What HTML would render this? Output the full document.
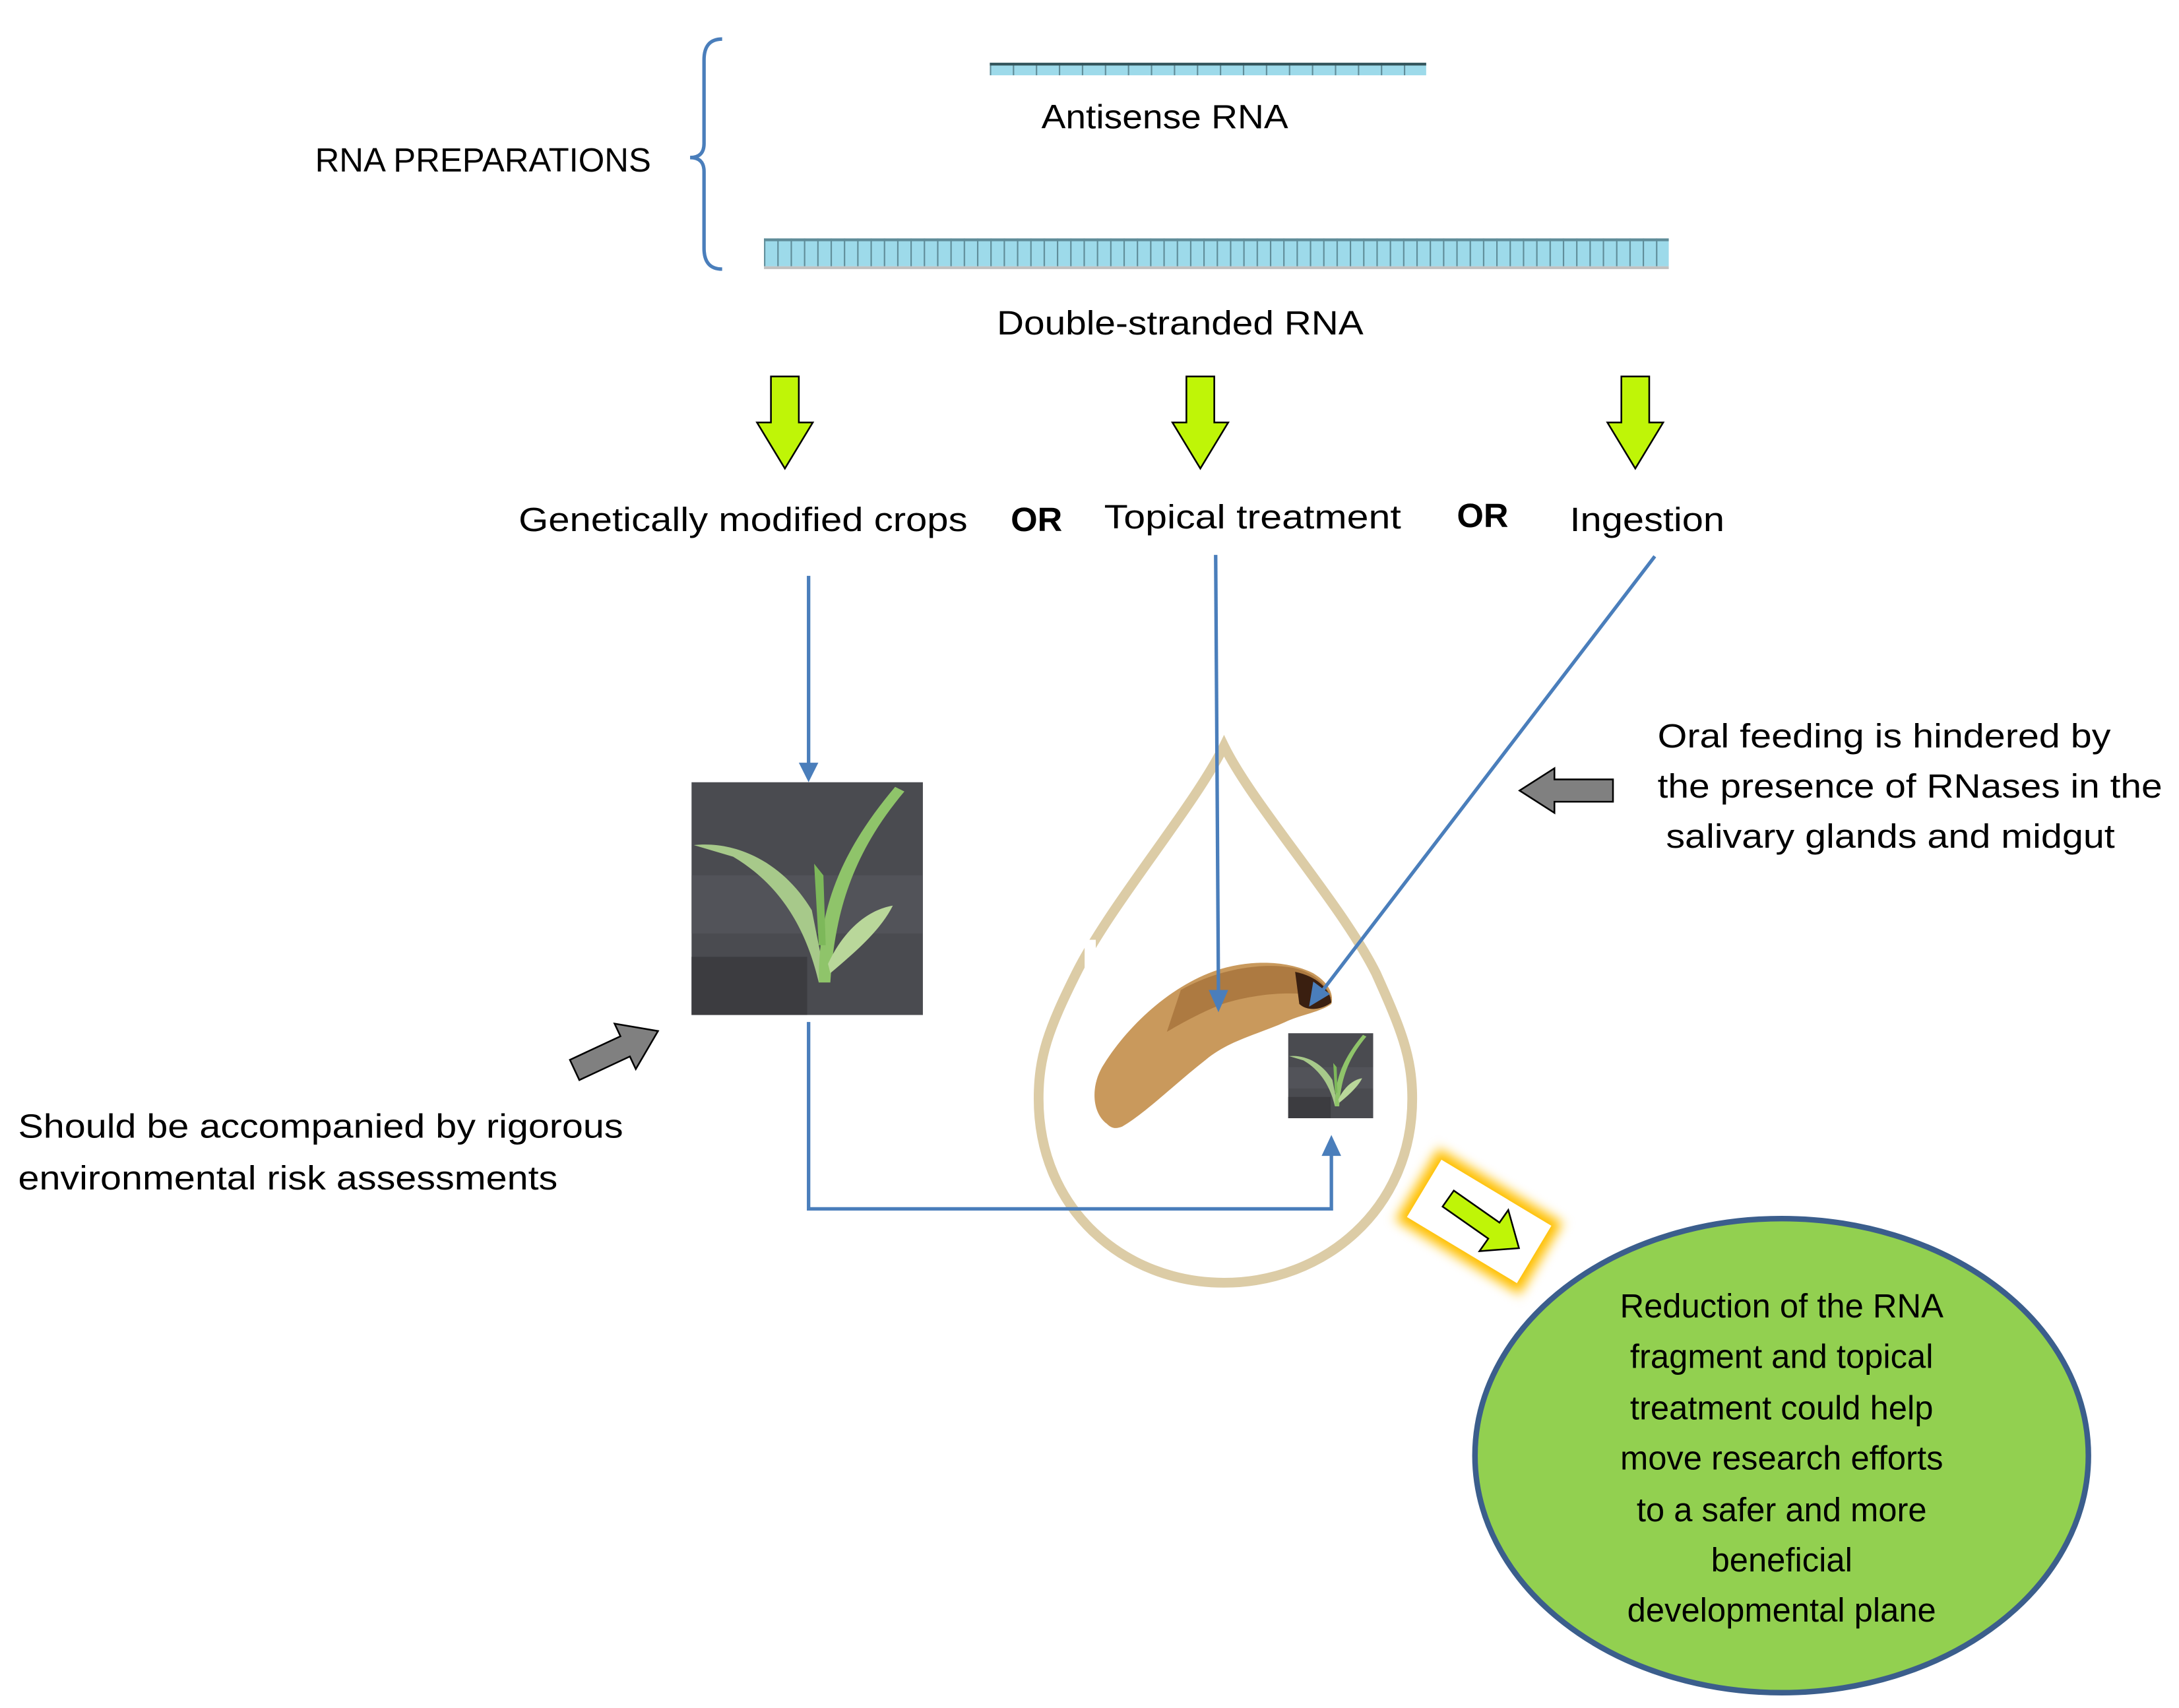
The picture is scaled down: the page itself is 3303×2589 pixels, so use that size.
<!DOCTYPE html>
<html><head><meta charset="utf-8"><style>html,body{margin:0;padding:0;background:#fff}svg{display:block}</style></head>
<body>
<svg width="3303" height="2589" viewBox="0 0 1563 1225" preserveAspectRatio="none" xmlns="http://www.w3.org/2000/svg" font-family="'Liberation Sans', sans-serif" font-size="24">
<defs>
<pattern id="t1" x="713" y="0" width="16.5" height="10" patternUnits="userSpaceOnUse"><rect width="16.5" height="10" fill="#9ddaea"/><rect x="0" width="1" height="10" fill="#5f8c98"/></pattern>
<pattern id="t2" x="551" y="0" width="9.55" height="30" patternUnits="userSpaceOnUse"><rect width="9.55" height="30" fill="#9ddaea"/><rect x="0" width="1" height="30" fill="#5f8c98"/></pattern>
<symbol id="plant" viewBox="0 0 100 100" preserveAspectRatio="none">
<rect width="100" height="100" fill="#4a4b50"/>
<rect x="0" y="40" width="100" height="25" fill="#58595f" opacity="0.6"/>
<rect x="0" y="75" width="50" height="25" fill="#3c3c40"/>
<path d="M1 27 C20 25 40 35 52 55 L58 85 L55 86 C50 65 40 45 18 32 Z" fill="#a7c98a"/>
<path d="M55 86 C55 60 60 35 88 2 L92 4 C70 30 62 55 60 86 Z" fill="#8fc46a"/>
<path d="M59 78 C65 65 75 55 87 53 C82 63 72 72 60 82 Z" fill="#b9d79a"/>
<path d="M55 70 L53 35 L57 40 L58 70Z" fill="#7db85a"/>
</symbol>
<filter id="glow" x="-50%" y="-50%" width="200%" height="200%"><feGaussianBlur stdDeviation="4"/></filter>
</defs>
<g transform="translate(-3,-2)">
<!-- bracket -->
<path d="M521 30 Q508 30 508 45 L508 105 Q508 115 498 115 Q508 115 508 125 L508 180 Q508 195 521 195" fill="none" stroke="#4a7ebb" stroke-width="2.5"/>
<text x="229" y="125" textLength="241" lengthAdjust="spacingAndGlyphs">RNA PREPARATIONS</text>

<rect x="713" y="47" width="313" height="9" fill="url(#t1)"/>
<rect x="713" y="47" width="313" height="2" fill="#33555c"/>
<text x="750" y="94" textLength="177" lengthAdjust="spacingAndGlyphs">Antisense RNA</text>

<rect x="551" y="173" width="649" height="20" fill="url(#t2)"/>
<rect x="551" y="173" width="649" height="2" fill="#5f8c98"/>
<rect x="551" y="193" width="649" height="2" fill="#c0c0c0"/>
<text x="718" y="242" textLength="263" lengthAdjust="spacingAndGlyphs">Double-stranded RNA</text>

<g fill="#bff507" stroke="#000" stroke-width="1.2">
<path d="M556 272 H576 V305 H586 L566 338 L546 305 H556 Z"/>
<path d="M854 272 H874 V305 H884 L864 338 L844 305 H854 Z"/>
<path d="M1166 272 H1186 V305 H1196 L1176 338 L1156 305 H1166 Z"/>
</g>

<text x="375" y="383" textLength="322" lengthAdjust="spacingAndGlyphs">Genetically modified crops</text>
<text x="728" y="383" font-weight="bold" textLength="37" lengthAdjust="spacingAndGlyphs">OR</text>
<text x="795" y="381" textLength="213" lengthAdjust="spacingAndGlyphs">Topical treatment</text>
<text x="1048" y="380" font-weight="bold" textLength="37" lengthAdjust="spacingAndGlyphs">OR</text>
<text x="1129" y="383" textLength="111" lengthAdjust="spacingAndGlyphs">Ingestion</text>

<path d="M881 537 C860 580 800 650 775 700 C755 740 748 760 748 790 C748 870 810 922 881 922 C952 922 1016 870 1016 790 C1016 760 1008 740 990 700 C965 650 902 580 881 537 Z" fill="none" stroke="#dccca6" stroke-width="7"/>
<rect x="781" y="676" width="8" height="22" fill="#fff"/>

<use href="#plant" x="499" y="563" width="166" height="167"/>
<use href="#plant" x="927" y="743" width="61" height="61"/>

<!-- grub -->
<path d="M797 808 C786 800 785 780 795 765 C812 738 840 712 870 700 C895 690 925 690 945 700 C955 706 960 714 958 722 C950 728 935 730 925 735 C905 744 885 748 868 762 C845 780 825 800 808 810 C803 812 800 811 797 808 Z" fill="#c9995c"/>
<path d="M850 712 C875 698 905 692 930 696 C945 699 955 708 958 718 C935 712 905 714 880 722 C865 728 852 735 840 742 Z" fill="#a8743c" opacity="0.85"/>
<path d="M932 699 C947 702 957 711 958 721 C950 727 940 727 935 722 Z" fill="#3a1f10"/>

<g stroke="#4a7ebb" stroke-width="2.5" fill="none">
<line x1="583" y1="415" x2="583" y2="550"/>
<polyline points="583,735 583,869 958,869 958,830"/>
<line x1="875" y1="400" x2="877" y2="714"/>
<line x1="1190" y1="401" x2="952" y2="712"/>
</g>
<g fill="#4a7ebb">
<path d="M576 549 L590 549 L583 563 Z"/>
<path d="M951 831 L965 831 L958 816 Z"/>
<path d="M870 712 L884 712 L877 728 Z"/>
<path d="M945 706 L957 715 L942 724 Z"/>
</g>

<path d="M1093 569 L1118 553 V561 H1160 V577 H1118 V585 Z" fill="#808080" stroke="#000" stroke-width="1.2"/>
<g transform="translate(446,755) rotate(-25)">
<path d="M-34 -8 H6 V-18 L32 0 L6 18 V8 H-34 Z" fill="#808080" stroke="#000" stroke-width="1.2"/>
</g>

<text x="1192" y="538" textLength="325" lengthAdjust="spacingAndGlyphs">Oral feeding is hindered by</text>
<text x="1192" y="574" textLength="362" lengthAdjust="spacingAndGlyphs">the presence of RNases in the</text>
<text x="1198" y="610" textLength="322" lengthAdjust="spacingAndGlyphs">salivary glands and midgut</text>

<text x="16" y="818" textLength="434" lengthAdjust="spacingAndGlyphs">Should be accompanied by rigorous</text>
<text x="16" y="855" textLength="387" lengthAdjust="spacingAndGlyphs">environmental risk assessments</text>

<g transform="translate(1064,878) rotate(31)">
<rect x="-52" y="-30" width="104" height="60" fill="#ffc000" filter="url(#glow)"/>
<rect x="-46" y="-24" width="92" height="48" fill="#fff"/>
</g>
<g transform="translate(1068,880) rotate(35)">
<path d="M-32 -7 H8 V-18 L30 0 L8 18 V7 H-32 Z" fill="#bff507" stroke="#000" stroke-width="1.2"/>
</g>

<ellipse cx="1281" cy="1046" rx="220" ry="170" fill="#92d050" stroke="#3b5e8c" stroke-width="4"/>
<g text-anchor="middle">
<text x="1281" y="947">Reduction of the RNA</text>
<text x="1281" y="983">fragment and topical</text>
<text x="1281" y="1020">treatment could help</text>
<text x="1281" y="1056">move research efforts</text>
<text x="1281" y="1093">to a safer and more</text>
<text x="1281" y="1129">beneficial</text>
<text x="1281" y="1165">developmental plane</text>
</g>
</g>
</svg>
</body></html>
